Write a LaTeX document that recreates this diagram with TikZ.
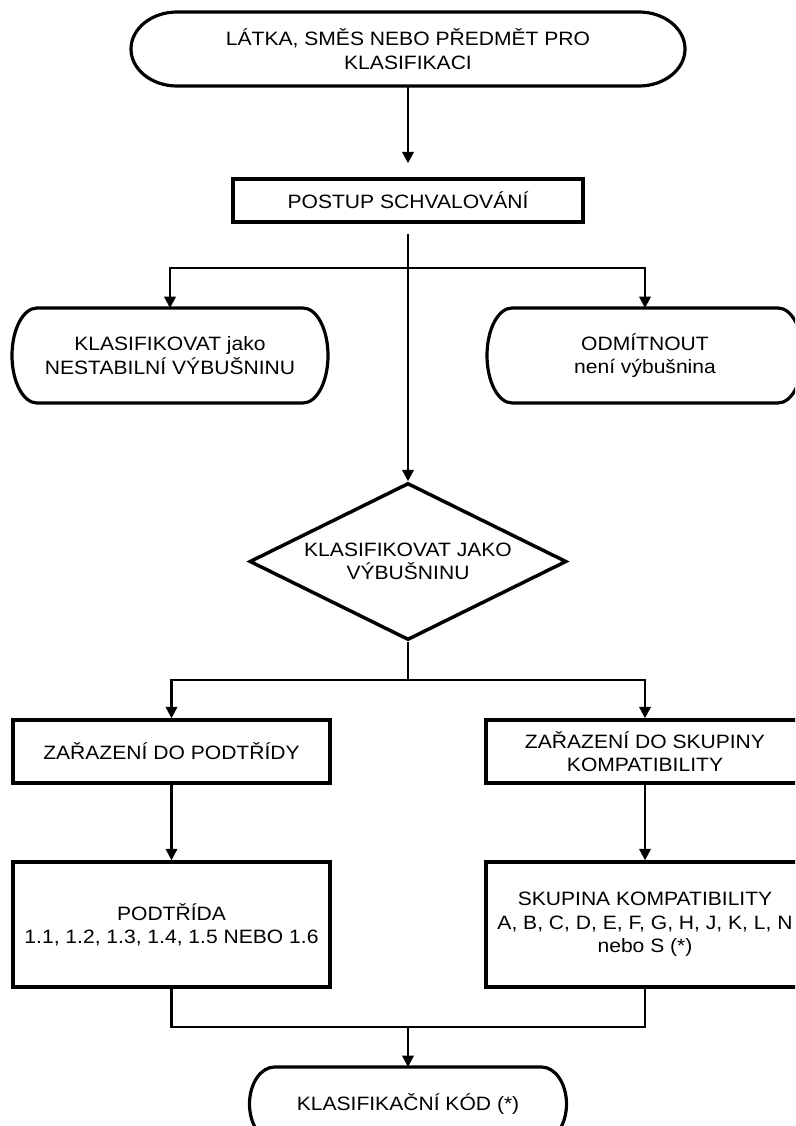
\documentclass[tikz,border=0pt]{standalone}
\usepackage{fontspec}
\setmainfont{Liberation Sans}[FakeStretch=1.09]
\usetikzlibrary{shapes.geometric,arrows.meta}

\tikzset{
    box/.style={draw, line width=2.6pt, align=center, inner sep=0pt},
    term/.style={align=center, inner sep=0pt, outer sep=0pt},
    decide/.style={draw, diamond, aspect=2, line width=2.6pt, align=center, inner sep=0pt},
    flow/.style={line width=1.8pt, -{Triangle[length=8.5pt,width=8.5pt]}},
    link/.style={line width=1.8pt},
    termline/.style={line width=2.4pt}
}

\newcommand{\termoutline}[3]{%
    \draw[termline] ([xshift=#2]#1.north west) -- ([xshift=-#2]#1.north east)
        arc[start angle=90, end angle=-90, x radius=#2, y radius=#3]
        -- ([xshift=#2]#1.south west)
        arc[start angle=270, end angle=90, x radius=#2, y radius=#3] -- cycle;}

\begin{document}
\begin{tikzpicture}[x=0.75pt, y=-0.75pt, font=\fontsize{14.5pt}{17.5pt}\selectfont]
            \useasboundingbox (0, 0) rectangle (795, 1126);
            \clip (0, 0) rectangle (795, 1126);

            \node[term, minimum width=415.5pt, minimum height=55.5pt] (item) at (408, 49) {LÁTKA, SMĚS NEBO PŘEDMĚT PRO\\KLASIFIKACI};
            \termoutline{item}{34.5pt}{27.75pt}

            \node[box, minimum width=262.5pt, minimum height=32.25pt] (approval) at (408, 200.5) {POSTUP SCHVALOVÁNÍ};

            \node[term, minimum width=237pt, minimum height=71.25pt] (unstable) at (170, 355.5) {KLASIFIKOVAT jako\\NESTABILNÍ VÝBUŠNINU};
            \termoutline{unstable}{18.75pt}{35.625pt}
            \node[term, minimum width=237pt, minimum height=71.25pt] (reject) at (645, 355.5) {ODMÍTNOUT\\není výbušnina};
            \termoutline{reject}{18.75pt}{35.625pt}

            \node[decide, minimum width=237.75pt, minimum height=117.75pt] (explosive) at (408, 561.5) {KLASIFIKOVAT JAKO\\VÝBUŠNINU};

            \node[box, minimum width=237.75pt, minimum height=47.25pt] (division) at (171.5, 751.5) {ZAŘAZENÍ DO PODTŘÍDY};
            \node[box, minimum width=238.5pt, minimum height=47.25pt] (group) at (645, 751.5) {ZAŘAZENÍ DO SKUPINY\\KOMPATIBILITY};

            \node[box, minimum width=237.75pt, minimum height=93.75pt] (divres) at (171.5, 924.5) {PODTŘÍDA\\1.1, 1.2, 1.3, 1.4, 1.5 NEBO 1.6};
            \node[box, minimum width=238.5pt, minimum height=93.75pt] (groupres) at (645, 924.5) {SKUPINA KOMPATIBILITY\\A, B, C, D, E, F, G, H, J, K, L, N\\nebo S (*)};

            \node[term, minimum width=237.75pt, minimum height=55.5pt] (code) at (408, 1104) {KLASIFIKAČNÍ KÓD (*)};
            \termoutline{code}{18.75pt}{27.75pt}

            \coordinate (split1) at (408, 268);
            \coordinate (split2) at (408, 680);
            \coordinate (merge) at (408, 1027);

            \draw[flow, shorten >=10.5pt] (item) -- (approval);
            \draw[flow, shorten <=7.5pt] (approval) -- (explosive);
            \draw[flow] (split1) -| (unstable);
            \draw[flow] (split1) -| (reject);

            \draw[link] (explosive) -- (split2);
            \draw[flow] (split2) -| (division);
            \draw[flow] (split2) -| (group);
            \draw[flow] (division) -- (divres);
            \draw[flow] (group) -- (groupres);

            \draw[link] (divres) |- (merge) -| (groupres);
            \draw[flow] (merge) -- (code);
\end{tikzpicture}
\end{document}
